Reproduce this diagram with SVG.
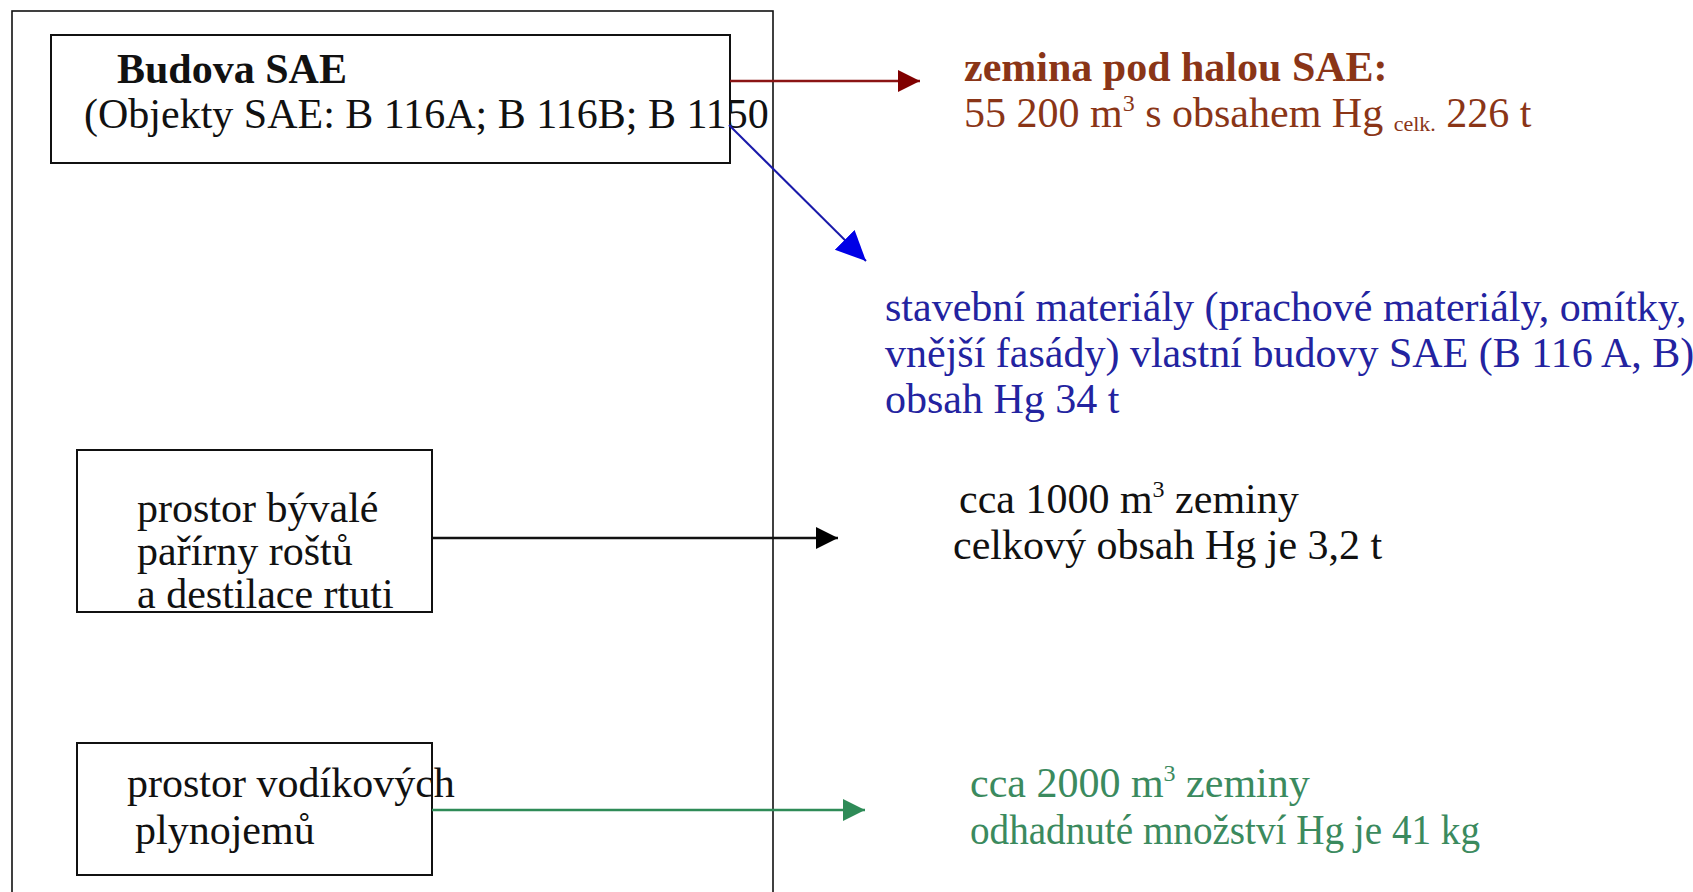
<svg xmlns="http://www.w3.org/2000/svg" width="1693" height="892" viewBox="0 0 1693 892">
<style>
text{font-family:"Liberation Serif","Times New Roman",serif;font-size:42px}
.box{fill:#fff;stroke:#111;stroke-width:2}
.frame{fill:none;stroke:#111;stroke-width:1.6}
.sup{font-size:24px}
.sub{font-size:22px}
.red{fill:#8a3517}
.blue{fill:#2323a0}
.green{fill:#3b8a5e}
.black{fill:#111}
</style>
<defs>
<marker id="ah-red" markerUnits="userSpaceOnUse" markerWidth="24" markerHeight="24" refX="22" refY="11" orient="auto"><path d="M0,0 L22,11 L0,22 Z" fill="#800000"/></marker>
<marker id="ah-blue" markerUnits="userSpaceOnUse" markerWidth="32" markerHeight="30" refX="30" refY="14" orient="auto"><path d="M0,0 L30,14 L0,28 Z" fill="#0000e6"/></marker>
<marker id="ah-black" markerUnits="userSpaceOnUse" markerWidth="24" markerHeight="24" refX="22" refY="11" orient="auto"><path d="M0,0 L22,11 L0,22 Z" fill="#000"/></marker>
<marker id="ah-green" markerUnits="userSpaceOnUse" markerWidth="24" markerHeight="24" refX="22" refY="11" orient="auto"><path d="M0,0 L22,11 L0,22 Z" fill="#2e8b57"/></marker>
</defs>
<rect width="1693" height="892" fill="#fff"/>
<rect id="frame" class="frame" x="12" y="11" width="761" height="900"/>
<g id="node-sae">
<rect class="box" x="51" y="35" width="679" height="128"/>
<text class="black" x="117" y="83" font-weight="bold">Budova SAE</text>
<text class="black" x="84" y="128">(Objekty SAE: B 116A; B 116B; B 1150</text>
</g>
<g id="node-parirna">
<rect class="box" x="77" y="450" width="355" height="162"/>
<text class="black" x="137" y="522">prostor bývalé</text>
<text class="black" x="137" y="565">pařírny roštů</text>
<text class="black" x="137" y="608">a destilace rtuti</text>
</g>
<g id="node-plynojemy">
<rect class="box" x="77" y="743" width="355" height="132"/>
<text class="black" x="127" y="797">prostor vodíkových</text>
<text class="black" x="135" y="844">plynojemů</text>
</g>
<g id="connectors">
<line x1="730" y1="81" x2="920" y2="81" stroke="#8b1414" stroke-width="2.5" marker-end="url(#ah-red)"/>
<line x1="729" y1="125" x2="866" y2="261" stroke="#1a1aaa" stroke-width="2" marker-end="url(#ah-blue)"/>
<line x1="432" y1="538" x2="838" y2="538" stroke="#111" stroke-width="2.5" marker-end="url(#ah-black)"/>
<line x1="432" y1="810" x2="865" y2="810" stroke="#2e8b57" stroke-width="2.5" marker-end="url(#ah-green)"/>
</g>
<g id="node-zemina">
<text class="red" x="964" y="81" font-weight="bold">zemina pod halou SAE:</text>
<text class="red" x="964" y="127">55 200 m<tspan class="sup" dy="-16">3</tspan><tspan dy="16"> s obsahem Hg </tspan><tspan class="sub" dy="4">celk.</tspan><tspan dy="-4"> 226 t</tspan></text>
</g>
<g id="node-materialy">
<text class="blue" x="885" y="321">stavební materiály (prachové materiály, omítky,</text>
<text class="blue" x="885" y="367">vnější fasády) vlastní budovy SAE (B 116 A, B)</text>
<text class="blue" x="885" y="413">obsah Hg 34 t</text>
</g>
<g id="node-1000">
<text class="black" x="959" y="513">cca 1000 m<tspan class="sup" dy="-16">3</tspan><tspan dy="16"> zeminy</tspan></text>
<text class="black" x="953" y="559">celkový obsah Hg je 3,2 t</text>
</g>
<g id="node-2000">
<text class="green" x="970" y="797">cca 2000 m<tspan class="sup" dy="-16">3</tspan><tspan dy="16"> zeminy</tspan></text>
<text class="green" x="970" y="844" font-size="41" textLength="510" lengthAdjust="spacingAndGlyphs">odhadnuté množství Hg je 41 kg</text>
</g>
</svg>
